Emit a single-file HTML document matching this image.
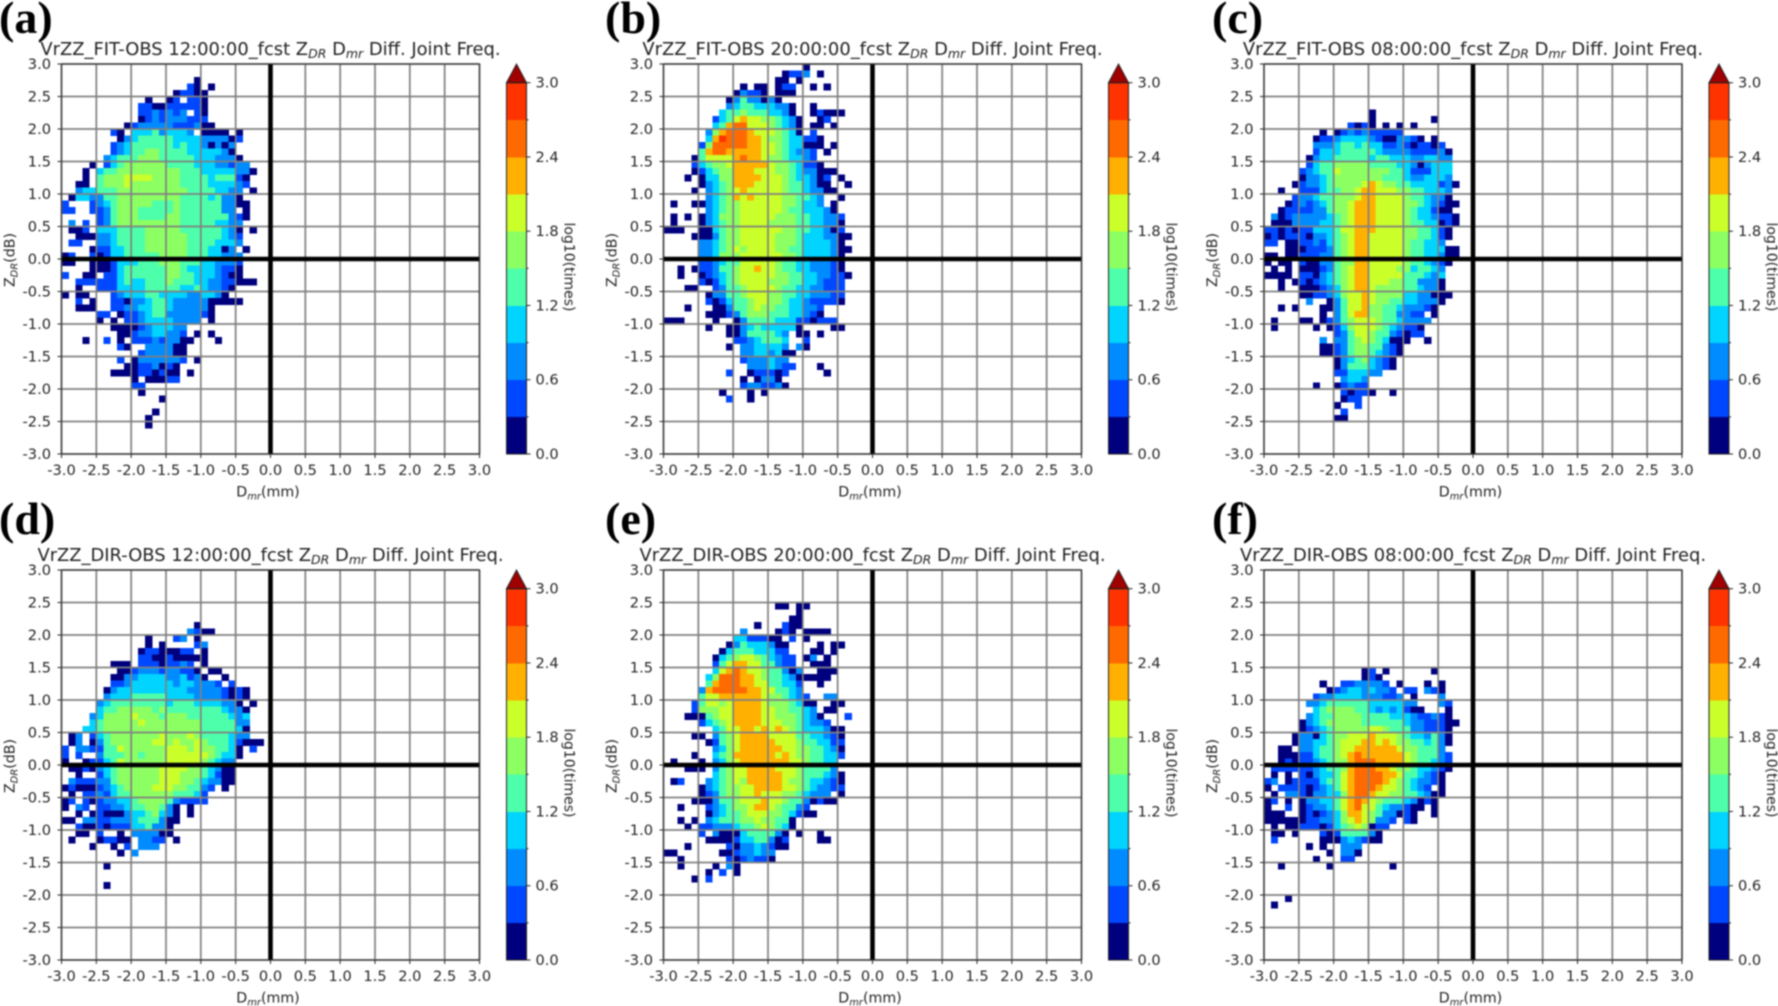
<!DOCTYPE html>
<html>
<head>
<meta charset="utf-8">
<title>Joint frequency panels</title>
<style>
html,body{margin:0;padding:0;background:#fff;width:1778px;height:1006px;overflow:hidden}
svg{display:block;filter:blur(0.7px)}
text{font-family:"DejaVu Sans","Liberation Sans",sans-serif;fill:#222}
.panel-letter{font-family:"Liberation Serif",serif;font-weight:bold;font-size:46px;fill:#000}
</style>
</head>
<body>
<svg id="figure" width="1778" height="1006" viewBox="0 0 1778 1006" xmlns="http://www.w3.org/2000/svg"></svg>
<script>
// Axis ticks and colour levels
const axisTicks = [-3.0,-2.5,-2.0,-1.5,-1.0,-0.5,0.0,0.5,1.0,1.5,2.0,2.5,3.0];
const colorbarTicks = [0.0,0.6,1.2,1.8,2.4,3.0];
const colorbarMinorTicks = [0.3,0.9,1.5,2.1,2.7];
const levelStep = 0.3;
const levelColors = ["#00007f","#0048ff","#008cff","#00d4ff","#4dffaa","#8cff63","#caff2a","#ffb000","#ff6a00","#ff3300"];
const overColor = "#a00000";
const binSize = 0.1;
const panelTitles = ["VrZZ_FIT-OBS 12:00:00_fcst","VrZZ_FIT-OBS 20:00:00_fcst","VrZZ_FIT-OBS 08:00:00_fcst","VrZZ_DIR-OBS 12:00:00_fcst","VrZZ_DIR-OBS 20:00:00_fcst","VrZZ_DIR-OBS 08:00:00_fcst"];
const panelLetters = ["(a)","(b)","(c)","(d)","(e)","(f)"];

// Colour band of each 0.1 x 0.1 bin (0 = no samples, n = n-th colour level).
// Outer index: row from Z_DR = +3.0 downward; inner index: column from D_mr = -3.0 rightward.
const bandsA = [[],[],
[0,0,0,0,0,0,0,0,0,0,0,0,0,0,0,0,0,0,0,1],
[0,0,0,0,0,0,0,0,0,0,0,0,0,0,0,0,0,0,2,1,0,1],
[0,0,0,0,0,0,0,0,0,0,0,0,0,0,0,0,1,2,2,1,1],
[0,0,0,0,0,0,0,0,0,0,0,0,1,0,0,1,2,0,2,2,1],
[0,0,0,0,0,0,0,0,0,0,0,2,2,1,1,2,2,2,2,2,1],
[0,0,0,0,0,0,0,0,0,0,0,2,2,3,2,3,2,3,0,2,1],
[0,0,0,0,0,0,0,0,0,0,0,1,2,3,2,3,3,3,2,2,2],
[0,0,0,0,0,0,0,0,0,1,2,3,3,3,3,3,2,2,2,3,1,1],
[0,0,0,0,0,0,0,2,1,0,4,4,4,5,3,4,4,4,3,0,1,1,1,1,0,1],
[0,0,0,0,0,0,0,0,1,3,4,5,5,5,5,5,4,4,4,4,3,3,3,3,1,2],
[0,0,0,0,0,0,0,2,3,4,5,5,5,5,5,5,4,5,4,4,3,1,3,1,3],
[0,0,0,0,0,0,0,2,3,4,5,5,6,6,5,5,5,5,4,4,4,4,4,3,1],
[0,0,0,0,0,0,3,4,5,5,5,6,6,6,5,5,5,5,5,4,4,4,3,3,3,1],
[0,0,0,0,1,0,2,4,5,6,6,6,6,6,6,5,5,5,5,4,4,4,3,3,2,3,3],
[0,0,0,1,0,4,5,5,6,6,6,6,6,6,6,6,6,5,5,5,4,4,4,4,4,3,3,1],
[0,0,0,1,0,5,6,6,6,7,7,7,7,6,6,6,6,5,5,5,5,4,5,5,5,2,1],
[0,0,1,1,0,5,6,6,6,7,6,6,6,6,6,6,6,5,5,5,5,4,4,4,4,3,2],
[0,0,3,4,4,5,5,5,6,6,6,6,6,6,6,6,6,6,5,5,5,5,4,4,3,3,0,1],
[0,1,4,4,3,3,5,5,6,6,6,6,6,6,6,6,6,5,5,5,5,4,5,3,3,1],
[2,0,0,0,2,3,4,5,6,6,6,6,6,5,5,5,6,5,5,5,5,5,5,3,3,1,1],
[2,2,0,0,2,2,3,5,6,6,6,5,5,5,5,5,6,5,5,5,5,5,5,3,3,0,1],
[0,0,0,0,0,2,3,5,6,6,6,5,5,5,5,6,6,5,5,5,5,5,5,5,3,2,1],
[0,3,0,2,0,2,3,5,6,6,6,6,6,6,6,6,6,5,5,5,5,5,4,4,3,3],
[0,1,1,2,0,4,4,4,5,5,5,5,6,6,6,6,6,5,5,5,5,5,5,4,3,1,0,1],
[0,0,1,1,1,3,3,4,5,5,5,5,6,6,6,6,6,6,5,5,5,5,5,4,3,2],
[0,2,2,0,0,3,3,4,5,5,5,5,6,6,6,6,6,6,5,5,5,5,4,4,4,3],
[0,0,0,0,1,2,2,4,4,5,5,5,6,6,6,6,6,6,5,5,5,4,4,1,3,0,1],
[1,2,0,0,2,1,2,4,4,5,5,5,5,5,6,6,6,6,5,5,5,4,4,3,3,3],
[1,1,0,0,1,1,1,2,4,4,4,5,5,5,6,6,6,5,5,5,4,4,3,3,3,2],
[0,0,0,0,1,1,1,2,4,5,5,5,5,5,5,6,6,5,4,4,4,4,3,2,2,1],
[2,0,0,1,1,0,2,2,4,5,5,5,5,5,5,6,6,5,5,4,4,4,3,2,1,1],
[0,0,2,2,2,2,2,2,4,5,4,4,5,5,5,6,5,5,5,4,4,3,3,2,2,1,1,1],
[0,0,1,0,0,2,2,2,4,4,4,4,5,5,5,5,5,4,4,5,4,3,3,2,1],
[1,0,1,1,0,0,0,2,3,4,4,4,5,5,4,4,4,4,3,3,4,4,3,1],
[0,0,2,0,1,0,0,2,2,1,3,3,4,5,5,4,3,3,3,3,3,1,1,1,1,1],
[0,0,1,1,1,0,0,2,2,3,3,4,4,5,5,4,3,3,3,3,3,1],
[0,0,0,0,0,2,2,0,1,2,2,3,4,5,5,3,3,3,3,3,2,1],
[0,0,0,0,0,1,0,1,0,2,2,3,4,4,4,4,3,3,3,3,0,1],
[0,0,0,0,0,0,0,1,1,1,1,2,3,4,4,4,3,3,0,0],
[0,0,0,0,0,0,0,0,1,1,2,3,3,4,4,3,3,2,0,1,0,1],
[0,0,0,1,0,0,2,0,1,0,2,2,2,3,2,3,3,1,1,0,0,0,1],
[0,0,0,0,0,0,0,0,2,1,0,0,3,3,3,3,1,1],
[0,0,0,0,0,0,0,0,0,0,0,2,3,3,3,3,1,1],
[0,0,0,0,0,0,0,0,2,0,1,3,3,3,3,3,3,2,0,1],
[0,0,0,0,0,0,0,0,0,1,1,2,2,3,1,2,1],
[0,0,0,0,0,0,0,1,1,1,1,2,2,1,2,1,1,0,1],
[0,0,0,0,0,0,0,0,0,0,1,0,1,1,1,2,2],
[0,0,0,0,0,0,0,0,0,0,2,2],
[0,0,0,0,0,0,0,0,0,0,0,1],
[0,0,0,0,0,0,0,0,0,0,0,0,0,0,1],
[],
[0,0,0,0,0,0,0,0,0,0,0,0,0,1],
[0,0,0,0,0,0,0,0,0,0,0,0,1],
[0,0,0,0,0,0,0,0,0,0,0,0,1]];

const bandsB = [
[0,0,0,0,0,0,0,0,0,0,0,0,0,0,0,0,0,0,0,0,1],
[0,0,0,0,0,0,0,0,0,0,0,0,0,0,0,0,0,1,2,2,3,0,1],
[0,0,0,0,0,0,0,0,0,0,0,0,0,0,0,0,1,1,0,1],
[0,0,0,0,0,0,0,0,0,0,0,1,0,1,1,0,1,2,2,0,0,1,0,1],
[0,0,0,0,0,0,0,0,0,0,1,3,2,2,1,0,1,1,1],
[0,0,0,0,0,0,0,0,0,1,3,5,3,3,1,3,1],
[0,0,0,0,0,0,0,0,0,3,4,5,5,4,4,4,3,3,1,0,0,1],
[0,0,0,0,0,0,0,0,4,5,5,6,5,5,5,4,4,3,1,0,0,1,2,1,1,1],
[0,0,0,0,0,0,0,2,4,5,7,8,7,7,6,6,5,4,3,1,0,0,1,2],
[0,0,0,0,0,0,0,4,5,8,9,9,7,7,7,6,5,4,3,1,0,1,1,0,1],
[0,0,0,0,0,0,3,6,8,9,9,9,8,7,7,7,6,5,4,1,0,2],
[0,0,0,0,0,0,4,8,10,9,9,9,8,8,7,6,6,5,4,4,2,2,1],
[0,0,0,0,0,2,6,9,9,9,9,9,8,8,7,7,6,5,4,4,1,1,1,0,1],
[0,0,0,0,0,5,8,9,9,8,8,8,8,8,7,7,6,5,4,3,3,2,0,1],
[0,0,0,0,1,5,7,7,7,7,8,9,8,8,7,6,6,5,4,4,3,2],
[0,0,0,0,2,4,5,6,6,7,8,8,8,8,8,7,6,6,5,4,2,2,1],
[0,0,0,0,1,2,4,5,6,6,8,8,8,7,7,7,6,6,5,4,3,3,1,1,1],
[0,0,0,1,0,1,4,4,6,6,8,8,8,8,7,7,7,6,5,4,4,3,1,2,0,1],
[0,0,0,0,0,1,3,4,5,6,8,8,8,7,7,7,7,6,5,5,4,3,1,1,0,0,1],
[0,0,0,0,1,0,3,4,5,6,7,8,7,7,7,7,7,6,5,5,4,3,3,1,1],
[0,0,0,0,0,0,3,4,5,6,8,7,8,7,7,7,7,6,6,5,5,4,3,0,0,1],
[0,1,0,0,1,1,3,4,5,6,6,7,7,7,7,7,7,6,6,5,4,4,3,0,1],
[0,0,0,0,0,0,3,4,5,6,6,7,7,7,7,7,7,6,5,5,4,4,4,3,1],
[0,1,0,1,0,1,3,4,6,6,6,7,7,7,7,7,6,6,6,5,5,4,4,3,3,2],
[0,1,0,0,0,1,3,4,5,6,6,7,7,7,7,6,6,6,6,5,5,4,4,3,3,1],
[1,1,1,0,0,1,1,4,5,6,6,7,7,7,7,7,7,6,6,5,5,4,4,3,1,2],
[0,0,0,0,1,1,1,3,5,6,6,7,7,7,7,7,6,6,6,5,4,4,4,3,3,1,1],
[0,0,0,0,0,3,3,4,5,6,6,7,7,7,7,7,6,6,6,5,4,4,4,4,3,1],
[0,0,0,0,0,3,3,4,5,6,7,6,7,7,7,7,6,6,5,5,4,4,4,4,3,1,1],
[0,0,0,0,0,3,3,4,6,6,6,7,7,7,7,7,7,6,6,5,4,4,4,4,3,1],
[0,0,0,0,0,2,2,3,4,5,5,7,7,7,7,7,6,5,5,4,4,3,3,3,2,1],
[0,0,1,0,1,2,2,3,5,5,6,7,7,8,7,7,6,5,5,4,4,3,3,3,2,1],
[0,0,1,0,0,1,2,3,4,5,6,7,7,7,7,7,6,6,5,5,4,4,3,3,2,2,1],
[0,0,0,0,0,2,1,2,4,5,6,7,7,7,7,6,6,6,5,5,4,4,3,2,2,2],
[0,0,0,1,1,0,0,2,3,5,5,6,7,7,7,7,6,5,5,4,4,3,3,2,2,2],
[0,0,0,0,0,0,1,3,3,5,5,6,7,7,7,6,6,5,5,4,4,3,3,3,2,2],
[0,0,0,0,0,0,2,1,2,4,5,5,6,7,7,6,6,5,4,4,3,2,2,2,2,1],
[0,0,0,1,0,0,0,1,1,3,5,5,6,7,6,6,5,5,4,4,3,3,2],
[0,0,0,0,0,0,1,1,1,2,3,5,6,6,6,5,5,5,4,4,3,2,1],
[1,1,1,0,0,0,0,1,0,0,1,3,5,5,5,5,4,4,4,2,2,1,2,2,2],
[0,0,0,0,0,0,1,0,0,1,1,3,4,5,4,4,4,4,4,1,0,0,0,0,1,1],
[0,0,0,0,0,0,0,0,0,1,1,3,5,5,5,5,4,3,0,1,1,0,1],
[0,0,0,0,0,0,0,0,0,0,2,2,3,4,5,5,5,4,0,0,2],
[0,0,0,0,0,0,0,0,0,1,0,3,3,4,4,4,4,3,0,3,1],
[0,0,0,0,0,0,0,0,0,0,0,3,3,4,4,3,4,1,1],
[0,0,0,0,0,0,0,0,0,0,0,2,3,3,3,4,3,3],
[0,0,0,0,0,0,0,0,0,0,0,0,3,3,3,4,3,2,2,0,0,0,1],
[0,0,0,0,0,0,0,0,0,2,0,0,1,2,2,2,1,2,0,0,0,0,0,1],
[0,0,0,0,0,0,0,0,0,0,0,1,0,1,3,3,1],
[0,0,0,0,0,0,0,0,0,0,0,2,3,3,2,2,3,1],
[0,0,0,0,0,0,0,0,1,0,0,0,1,0,1],
[0,0,0,0,0,0,0,0,0,2,0,0,1]];

const bandsC = [[],[],[],[],[],[],[],
[0,0,0,0,0,0,0,0,0,0,0,0,0,0,0,1],
[0,0,0,0,0,0,0,0,0,0,0,0,0,0,0,1,0,0,0,0,0,0,0,0,1],
[0,0,0,0,0,0,0,0,0,0,0,0,2,1,2,1,0,1,0,1,0,1],
[0,0,0,0,0,0,0,0,1,0,1,2,3,2,3,2,2,2,2,2],
[0,0,0,0,0,0,0,1,2,2,3,4,4,4,4,3,2,1,1,3,3,2,1,0,1],
[0,0,0,0,0,0,0,3,3,3,4,5,5,4,5,4,4,2,2,3,2,1,2,2,1,2],
[0,0,0,0,0,0,0,2,4,4,4,5,5,5,5,5,4,3,3,3,3,2,2,2,2,3,1],
[0,0,0,0,0,0,1,3,4,4,5,5,5,5,5,4,5,5,4,4,4,3,3,4,4,3,3],
[0,0,0,0,0,0,2,4,5,5,6,6,6,6,6,5,5,5,5,4,4,3,1,3,4,4,4],
[0,0,0,0,0,2,3,4,5,5,7,6,6,6,6,6,6,6,5,5,4,2,2,2,4,4,4],
[0,0,0,0,0,1,3,3,4,5,6,6,6,6,6,6,6,5,5,5,4,3,3,4,4,4,3],
[0,0,0,0,1,2,3,3,4,5,6,6,6,6,7,8,7,6,6,5,5,4,4,4,4,2,3,1],
[0,0,1,0,0,2,2,2,4,5,5,6,6,7,8,8,7,7,7,6,6,5,5,4,4,4,3],
[0,0,0,0,2,3,3,4,5,5,6,6,6,7,8,8,7,7,7,7,6,5,5,4,3,3,1],
[0,0,0,1,2,3,2,3,4,5,6,6,7,8,8,8,7,7,7,7,6,6,5,4,3,2,1,1],
[0,0,1,2,2,2,2,3,3,5,6,6,7,8,8,8,7,7,7,7,6,5,4,4,2,1,1],
[0,3,1,2,3,3,3,3,3,4,5,6,7,8,8,8,7,7,7,7,6,5,4,4,3,2,2,1],
[0,1,1,1,3,3,3,3,4,4,5,6,7,8,8,8,7,7,7,7,6,5,5,4,4,1,2,1],
[2,2,1,2,1,2,2,4,4,4,5,7,7,8,8,8,7,7,7,7,6,6,5,5,4,2,1],
[1,2,1,2,2,2,1,3,3,4,5,6,7,8,8,7,7,7,7,7,6,6,5,5,4,2,1],
[2,2,0,1,1,2,2,3,2,4,5,6,7,8,8,7,7,7,7,7,6,5,5,4,4,3],
[0,0,0,1,1,1,2,2,2,3,5,6,7,8,8,7,7,7,7,7,6,5,5,4,4,4,1,1],
[1,1,0,1,1,2,2,2,3,3,5,6,7,8,8,7,7,7,7,7,6,5,5,4,4,3,1,1],
[1,0,1,1,0,2,1,1,3,3,5,6,6,8,8,7,7,7,7,7,6,5,5,4,3,2,1],
[0,1,0,1,0,1,1,1,2,3,5,6,7,8,8,7,7,7,7,6,6,4,5,5,4,3],
[1,1,1,1,0,2,2,1,3,4,5,6,7,8,8,7,7,7,7,7,5,5,5,4,3,4],
[0,0,1,0,1,2,1,2,3,4,5,6,7,8,8,7,7,7,6,6,5,5,3,3,3,1],
[0,0,1,0,0,1,1,1,2,3,4,6,7,8,8,7,6,6,6,6,5,5,4,3,3,1],
[0,0,0,0,0,1,1,2,2,3,4,6,7,7,8,7,6,6,6,6,4,4,3,3,1,1,1],
[0,0,0,0,0,0,3,0,0,1,3,5,7,7,8,7,6,6,5,5,4,4,3,3,3,1],
[0,0,1,0,1,0,0,0,1,1,3,5,7,7,8,6,6,5,5,4,3,3,3,2,1],
[0,0,0,0,0,0,0,0,1,0,3,5,7,8,8,6,6,5,5,3,3,2,2,0,1],
[0,1,0,0,0,1,1,0,1,2,3,5,6,7,7,7,6,5,5,4,3,3,3,3],
[0,1,0,0,0,0,0,1,0,1,2,4,6,7,7,7,6,5,4,3,2,2,1],
[0,0,0,0,0,0,0,0,0,0,2,3,5,7,7,6,5,5,3,2,1,2,2],
[0,0,0,0,0,0,0,0,3,0,3,3,5,6,7,6,5,4,1,1,1,0,0,1],
[0,0,0,0,0,0,0,0,1,1,2,3,5,6,6,5,5,3,2,1],
[0,0,0,0,0,0,0,0,1,1,2,3,5,6,6,5,4,3,2,1],
[0,0,0,0,0,0,0,0,0,0,1,3,4,5,6,4,3,2,1],
[0,0,0,0,0,0,0,0,0,0,1,3,5,5,5,4,3,2,1],
[0,0,0,0,0,0,0,0,0,0,2,2,4,4,4,3,3],
[0,0,0,0,0,0,0,0,0,0,0,3,4,4,3],
[0,0,0,0,0,0,0,1,0,0,1,2,3,2,2],
[0,0,0,0,0,0,0,0,0,0,0,2,1,2,2,1,0,0,1],
[0,0,0,0,0,0,0,0,0,0,0,1,2,2],
[0,0,0,0,0,0,0,0,0,0,1,0,0,2],
[0,0,0,0,0,0,0,0,0,0,0,2],
[0,0,0,0,0,0,0,0,0,0,1,1]];

const bandsD = [[],[],[],[],[],[],[],[],
[0,0,0,0,0,0,0,0,0,0,0,0,0,0,0,0,0,0,0,1],
[0,0,0,0,0,0,0,0,0,0,0,0,0,0,0,0,0,0,3,2,1,1],
[0,0,0,0,0,0,0,0,0,0,0,0,1,0,0,0,2,3,0,1],
[0,0,0,0,0,0,0,0,0,0,0,0,1,0,1,0,0,0,0,2,3],
[0,0,0,0,0,0,0,0,0,0,0,1,2,2,1,1,1,2,2,0,1],
[0,0,0,0,0,0,0,0,0,0,0,2,2,1,1,2,1,1,1,1,1],
[0,0,0,0,0,0,0,1,1,1,0,2,2,2,1,2,2,3,2,0,1],
[0,0,0,0,0,0,0,0,1,1,2,3,3,3,2,3,3,2,2,1,0,1,1],
[0,0,0,0,0,0,0,1,1,3,3,4,4,4,4,3,3,4,2,3,1,0,0,1],
[0,0,0,0,0,0,0,2,2,3,4,4,4,4,4,4,3,4,4,3,3,3,2,0,2],
[0,0,0,0,0,0,1,3,4,4,4,4,4,4,4,4,4,4,3,3,3,3,3,2,1,2,1],
[0,0,0,0,0,0,3,4,4,4,5,5,5,5,5,4,4,4,4,3,3,3,3,2,1,2,1],
[0,0,0,0,0,3,4,5,5,5,5,5,5,5,5,4,5,5,5,4,4,4,4,3,3,1,0,1],
[0,0,0,0,0,4,5,5,6,6,6,6,6,5,6,5,5,5,5,5,5,5,5,4,3,3,1],
[0,0,0,0,3,4,6,6,6,6,7,6,6,6,5,6,6,6,5,5,5,5,5,5,4,3,4],
[0,0,0,0,4,5,6,6,6,6,6,7,6,6,6,6,6,6,6,6,5,5,5,5,5,3,3],
[0,0,0,4,4,5,6,6,6,6,6,6,6,6,6,6,6,6,6,6,5,5,5,5,5,4,1],
[0,1,3,0,2,4,5,6,6,6,6,6,6,6,7,6,6,6,7,6,5,5,5,5,4,3,3],
[0,1,3,0,1,3,5,6,6,6,6,6,6,7,7,6,7,6,6,7,6,5,5,5,4,2,1,1,1],
[2,0,3,3,2,2,5,5,7,6,6,6,6,6,6,7,7,7,6,7,6,6,5,5,4,1,0,2],
[2,0,2,0,0,3,5,5,5,6,6,5,6,6,6,7,7,7,7,7,7,6,5,4,4,1],
[1,0,0,1,2,2,4,5,7,6,6,6,6,6,6,7,7,7,7,7,6,5,4,3,3],
[0,1,1,2,1,3,4,5,6,6,6,6,6,6,7,7,7,7,6,6,5,4,3,1,1],
[0,0,1,0,0,2,4,5,6,6,6,6,6,6,7,7,7,6,6,6,5,4,2,1,1],
[0,3,2,2,2,3,3,5,6,6,6,6,6,6,7,7,7,6,6,5,4,3,3,1,1],
[1,2,1,1,1,2,3,4,5,6,6,6,6,7,7,7,6,6,5,5,3,2,0,1],
[0,1,0,2,2,3,2,4,5,5,6,6,6,6,6,6,5,5,5,4,2],
[1,2,0,2,1,2,3,3,4,4,5,6,6,6,6,5,3,2,2,2,2],
[1,0,3,2,0,2,2,3,3,4,5,5,6,6,5,3,1,0,1],
[0,0,1,0,1,2,1,1,1,3,4,4,5,6,4,3,1,0,1],
[1,1,0,3,3,2,2,3,3,3,4,5,5,5,3,1,1],
[0,0,2,1,1,2,1,2,2,2,4,4,5,3,3,1],
[0,0,1,1,0,2,0,0,1,0,3,3,3,3,1,1],
[0,1,0,0,0,1,2,2,1,1,0,3,3,2,2,0,1],
[0,0,0,0,1,0,0,1,0,2,0,3,3,3],
[0,0,0,0,0,0,0,0,1,0,3],
[],
[0,0,0,0,0,0,1],
[],[],
[0,0,0,0,0,0,1]];

const bandsE = [[],[],[],[],[],
[0,0,0,0,0,0,0,0,0,0,0,0,0,0,0,0,1,1,0,1,1],
[0,0,0,0,0,0,0,0,0,0,0,0,0,0,0,0,0,0,0,1],
[0,0,0,0,0,0,0,0,0,0,0,0,0,0,0,0,0,0,1,1],
[0,0,0,0,0,0,0,0,0,0,0,0,0,1,0,0,0,2,1,1],
[0,0,0,0,0,0,0,0,0,0,0,3,0,0,0,0,1,2,1,0,1,1,1,1],
[0,0,0,0,0,0,0,0,0,0,4,4,2,2,2,1,1,0,2,0,1],
[0,0,0,0,0,0,0,0,0,1,3,5,4,4,4,3,1,1,0,0,0,0,1,0,1,1],
[0,0,0,0,0,0,0,0,1,4,5,5,5,4,4,4,2,2,0,0,0,1,1,0,1],
[0,0,0,0,0,0,0,1,4,5,6,7,7,6,5,4,3,2,2,0,1,3,0,1],
[0,0,0,0,0,0,0,2,5,7,8,8,7,7,5,5,3,2,2,0,0,1,1,1],
[0,0,0,0,0,0,0,4,7,8,9,8,7,7,6,5,5,3,1,3,0,0,1,1,1],
[0,0,0,0,0,0,4,6,9,9,9,8,8,7,6,5,5,4,3,1,1,1,1,1],
[0,0,0,0,0,0,5,8,9,9,9,8,8,7,7,5,5,4,4,2,0,0,1],
[0,0,0,0,0,3,8,9,9,9,9,9,8,8,7,7,5,5,4,3],
[0,0,0,0,0,5,7,7,8,8,8,8,8,8,7,6,6,5,4,3,2,0,0,3,3],
[0,0,0,0,2,5,7,7,6,7,8,8,8,8,7,6,6,6,5,4,1,1,0,0,1,1],
[0,0,0,0,2,6,6,6,7,7,8,8,8,8,7,7,6,6,5,5,4,3,0,1,1],
[0,0,0,1,1,1,5,6,7,7,8,8,8,8,7,7,6,6,6,5,4,3,1,0,0,0,2],
[0,0,0,0,0,2,4,5,6,7,8,8,8,8,7,7,7,6,6,5,4,3,3,2],
[0,0,0,0,0,0,0,4,5,7,7,8,8,7,8,7,8,7,6,5,4,4,4,3,1,1],
[0,0,0,0,1,1,0,3,5,6,7,8,8,8,8,7,7,7,7,5,5,4,4,3,2,1],
[0,0,0,0,0,0,1,2,5,6,7,8,8,8,8,8,7,7,7,6,5,5,4,4,2,2],
[0,0,0,0,0,0,0,3,4,6,7,8,8,8,8,8,8,7,7,6,6,5,5,4,3,1],
[0,0,0,0,1,0,0,4,5,6,8,8,8,8,8,8,7,8,7,6,6,5,5,4,4,2],
[0,1,0,0,0,1,0,3,4,6,7,8,8,8,8,8,8,8,7,7,6,5,5,4,4],
[0,0,0,1,1,1,0,3,5,6,7,7,8,8,8,8,7,7,7,6,5,5,5,5,3],
[0,0,0,0,0,0,0,4,5,6,7,7,8,8,8,8,8,7,7,6,5,5,5,4,3,1],
[0,1,2,0,0,0,3,4,5,6,7,6,8,8,8,8,8,7,6,6,5,4,4,3,2,1],
[0,0,0,0,0,1,3,4,5,6,6,7,7,8,8,8,8,7,7,6,5,4,3,3,2,2],
[0,0,0,0,0,1,2,3,5,6,6,7,7,8,7,7,7,6,6,5,4,3,3,3,0,1],
[0,0,0,0,1,1,1,3,5,5,6,7,7,7,8,7,7,6,5,5,3,1,2,1,1],
[0,0,1,0,0,0,2,3,4,5,6,6,7,8,8,7,6,5,5,3,2],
[0,0,0,0,0,0,1,3,4,5,5,6,7,7,7,6,6,5,4,2,1,1],
[0,0,1,0,1,0,3,4,5,5,5,6,6,7,6,6,5,5,1,0],
[0,0,0,1,0,2,2,3,3,3,4,5,5,6,7,6,5,4,1],
[0,0,0,0,0,2,0,3,1,1,1,4,5,5,5,5,3,1,0,1,0,0,1],
[0,0,0,0,0,0,1,1,1,1,2,4,4,5,5,3,1,2,0,0,0,0,1,1],
[0,0,0,1,0,0,0,0,0,2,1,3,3,4,3,2,1,1],
[1,1,0,0,0,0,0,0,1,1,2,3,3,4,3,3],
[0,0,1,0,0,0,0,0,0,2,1,2,3,2,2,1],
[0,0,1,0,0,0,0,1,0,3,1],
[0,0,0,0,0,0,1,0,2,0,1],
[0,0,0,0,1,0,2]];

const bandsF = [[],[],[],[],[],[],[],[],[],[],[],[],[],[],[],
[0,0,0,0,0,0,0,0,0,0,0,0,0,0,1,2,0,1,0,0,0,0,0,0,1],
[0,0,0,0,0,0,0,0,0,0,0,0,0,0,1,2,1],
[0,0,0,0,0,0,0,0,1,0,0,2,2,3,3,3,3,2,0,1,0,0,0,1,0,1],
[0,0,0,0,0,0,0,0,0,1,2,3,4,4,3,4,3,3,2,0,2,2,0,3,2,1],
[0,0,0,0,0,0,0,2,3,3,4,4,4,4,3,3,3,2,2,3,0,1,0,0,0,3],
[0,0,0,0,0,0,3,3,4,5,5,5,5,5,5,4,4,4,4,4,3,3,0,0,0,3,2],
[0,0,0,0,0,0,0,4,5,6,6,6,6,5,5,4,3,4,3,4,2,1,1,0,0,0,1],
[0,0,0,0,0,0,3,4,5,5,6,6,6,6,5,5,5,5,4,4,4,3,2,2,3,2,1],
[0,0,0,0,0,1,3,4,5,6,6,6,6,6,5,5,5,5,5,5,4,3,3,2,2,2,1,1],
[0,0,0,0,0,1,2,3,4,5,6,6,6,6,6,7,7,6,5,5,5,3,3,2,2,2,1],
[0,0,0,0,1,3,3,1,4,5,6,6,7,7,7,8,7,7,7,6,5,4,4,3,5,3,1],
[0,0,0,0,1,3,3,4,4,5,6,7,7,7,8,8,7,8,7,6,6,5,5,4,5,3,1],
[0,0,1,1,0,3,3,4,5,5,6,7,7,8,8,8,8,8,8,7,6,6,5,5,5,3],
[0,0,1,1,1,2,2,4,5,5,6,7,8,9,8,8,8,8,8,8,7,6,5,5,5,3,2],
[0,0,1,2,1,2,2,3,4,5,6,6,8,9,9,9,8,8,8,8,7,6,5,5,4,3,2],
[0,2,2,2,2,2,2,3,4,5,5,6,8,9,9,9,8,8,7,6,6,5,4,4,3,2,1],
[0,1,0,1,0,2,1,3,4,4,5,7,8,9,9,9,9,8,8,7,5,5,4,3,2,1],
[2,3,0,1,2,2,2,2,4,5,5,7,8,9,9,9,9,8,7,6,5,4,3,3,2,1],
[1,0,2,2,2,2,1,2,3,4,5,7,8,9,9,9,8,7,7,6,5,4,3,2,0,1],
[0,1,0,3,3,2,1,3,3,4,4,6,8,9,9,8,7,7,6,6,5,5,4,3,1,1],
[1,2,0,1,0,1,3,3,4,4,5,7,8,9,8,7,6,5,5,5,4,3,1,2,1],
[1,0,0,2,0,1,2,3,3,4,5,7,8,9,7,7,5,4,3,3,2,1,1,0,1],
[1,1,1,0,0,1,2,1,2,3,4,6,8,8,7,6,5,3,3,1,2,1,0,0,1],
[1,1,1,1,1,1,2,2,3,3,4,6,7,8,7,6,3,3,2,0,2,1],
[0,1,0,1,1,2,2,2,1,2,4,5,6,7,6,1,2,2],
[0,1,1,0,1,0,0,0,2,1,2,5,5,5,5,3,1],
[0,2,0,0,0,0,0,0,1,1,1,3,4,3,2,1,1],
[0,0,0,0,0,0,1,0,1,0,0,3,3,3],
[0,0,0,0,0,0,0,0,0,1,0,3,3,1],
[0,0,0,0,0,0,0,1,0,0,0,2,2],
[0,0,1,0,0,0,0,0,0,1,0,0,0,0,0,0,0,0,1],
[],[],[],[],
[0,0,0,1],
[0,1]];

const panelBands = [bandsA,bandsB,bandsC,bandsD,bandsE,bandsF];

const NS = "http://www.w3.org/2000/svg";
const figure = document.getElementById("figure");
const plotW = 418, plotH = 390;
const columnLefts = [61.5,663.5,1264];
const rowTops = [64,570];

function make(tag, attrs, parent, text){
  const node = document.createElementNS(NS, tag);
  for (const k in attrs) node.setAttribute(k, attrs[k]);
  if (text !== undefined) node.textContent = text;
  parent.appendChild(node);
  return node;
}
function bandToValue(band){ return (band - 0.5) * levelStep; }
function valueToColor(v){
  const idx = Math.floor(v / levelStep);
  return idx >= levelColors.length ? overColor : levelColors[Math.max(0, idx)];
}
function addSubText(parent, main, sub, size){
  make("tspan", {}, parent, main);
  const s = make("tspan", {dy: 3, "font-size": size * 0.7, "font-style": "italic"}, parent, sub);
  
  
  return make("tspan", {dy: -3}, parent);
}

panelBands.forEach(function(bands, p){
  const left = columnLefts[p % 3], top = rowTops[Math.floor(p / 3)];
  const xScale = function(v){ return left + (v + 3) / 6 * plotW; };
  const yScale = function(v){ return top + (3 - v) / 6 * plotH; };

  const g = make("g", {}, figure);
  
  

  const letter = make("text", {x: p % 3 === 0 ? -1 : (p % 3 === 1 ? 605 : 1212), y: top - 31 + (p > 2 ? -5 : 0), class: "panel-letter"}, g, panelLetters[p]);
  
  

  const title = make("text", {x: left + plotW / 2, y: top - 9, "text-anchor": "middle", "font-size": 17.9}, g);
  
  
  let tail = addSubText(title, panelTitles[p] + " Z", "DR", 17.9);
  tail.textContent = " D";
  const s2 = make("tspan", {dy: 3, "font-size": 12.5, "font-style": "italic"}, title, "mr");
  
  
  make("tspan", {dy: -3}, title, " Diff. Joint Freq.");

  const cells = make("g", {"shape-rendering": "crispEdges"}, g);
  
  
  bands.forEach(function(row, r){
    row.forEach(function(band, c){
      if (!band) return;
      const x0 = -3 + c * binSize, y0 = 3 - r * binSize;
      const rect = make("rect", {
        x: xScale(x0), y: yScale(y0),
        width: xScale(x0 + binSize) - xScale(x0) + 0.3,
        height: yScale(y0 - binSize) - yScale(y0) + 0.3,
        fill: valueToColor(bandToValue(band))
      }, cells);
      
      
    });
  });

  axisTicks.forEach(function(t){
    const gx = make("line", {x1: xScale(t), x2: xScale(t), y1: top, y2: top + plotH, stroke: "#808080", "stroke-width": 1.7}, g);
    
    
    const gy = make("line", {x1: left, x2: left + plotW, y1: yScale(t), y2: yScale(t), stroke: "#808080", "stroke-width": 1.7}, g);
    
    

    const tx = make("line", {x1: xScale(t), x2: xScale(t), y1: top + plotH, y2: top + plotH + 4, stroke: "#222", "stroke-width": 1}, g);
    
    
    const ty = make("line", {x1: left, x2: left - 4, y1: yScale(t), y2: yScale(t), stroke: "#222", "stroke-width": 1}, g);
    
    

    const lx = make("text", {x: xScale(t), y: top + plotH + 21, "text-anchor": "middle", "font-size": 14.6}, g, t.toFixed(1));
    
    
    const ly = make("text", {x: left - 10.5, y: yScale(t) + 5, "text-anchor": "end", "font-size": 14.6}, g, t.toFixed(1));
    
    
  });

  const zeroV = make("line", {x1: xScale(0), x2: xScale(0), y1: top, y2: top + plotH, stroke: "#000", "stroke-width": 4.6}, g);
  
  
  const zeroH = make("line", {x1: left, x2: left + plotW, y1: yScale(0), y2: yScale(0), stroke: "#000", "stroke-width": 4.6}, g);
  
  

  const frame = make("rect", {x: left, y: top, width: plotW, height: plotH, fill: "none", stroke: "#333", "stroke-width": 1.2}, g);
  
  

  const xTitle = make("text", {x: left + plotW / 2 - 2.5, y: top + plotH + 42.5, "text-anchor": "middle", "font-size": 14.2}, g);
  
  
  const xTail = addSubText(xTitle, "D", "mr", 14.2);
  xTail.textContent = "(mm)";

  const yTitle = make("text", {transform: "translate(" + (left - 47) + "," + (top + plotH / 2 + 1) + ") rotate(-90)", "text-anchor": "middle", "font-size": 14.2}, g);
  
  
  const yTail = addSubText(yTitle, "Z", "DR", 14.2);
  yTail.textContent = "(dB)";

  // Colour bar
  const cbL = left + 445, cbW = 20, cbBottom = top + plotH, cbTop = top + 18.7;
  const cbScale = function(v){ return cbBottom - v / 3 * (cbBottom - cbTop); };
  const cb = make("g", {}, g);
  
  
  levelColors.forEach(function(col, i){
    const lo = i * levelStep, hi = (i + 1) * levelStep;
    const seg = make("rect", {x: cbL, y: cbScale(hi), width: cbW, height: cbScale(lo) - cbScale(hi) + 0.3, fill: col, "shape-rendering": "crispEdges"}, cb);
    
    
  });
  const tri = make("polygon", {points: cbL + "," + cbTop + " " + (cbL + cbW) + "," + cbTop + " " + (cbL + cbW / 2) + "," + top, fill: overColor, stroke: "#222", "stroke-width": 1}, cb);
  
  
  const cbFrame = make("rect", {x: cbL, y: cbTop, width: cbW, height: cbBottom - cbTop, fill: "none", stroke: "#222", "stroke-width": 1}, cb);
  
  
  colorbarTicks.forEach(function(t){
    const tk = make("line", {x1: cbL + cbW, x2: cbL + cbW + 4, y1: cbScale(t), y2: cbScale(t), stroke: "#222", "stroke-width": 1}, cb);
    
    
    const lb = make("text", {x: cbL + cbW + 9, y: cbScale(t) + 5, "font-size": 14.6}, cb, t.toFixed(1));
    
    
  });
  colorbarMinorTicks.forEach(function(t){
    const tk = make("line", {x1: cbL + cbW, x2: cbL + cbW + 2, y1: cbScale(t), y2: cbScale(t), stroke: "#222", "stroke-width": 1}, cb);
    
    
  });
  const cbTitle = make("text", {transform: "translate(" + (left + 503) + "," + (top + 203) + ") rotate(90)", "text-anchor": "middle", "font-size": 14}, cb, "log10(times)");
  
  
});
</script>
</body>
</html>
